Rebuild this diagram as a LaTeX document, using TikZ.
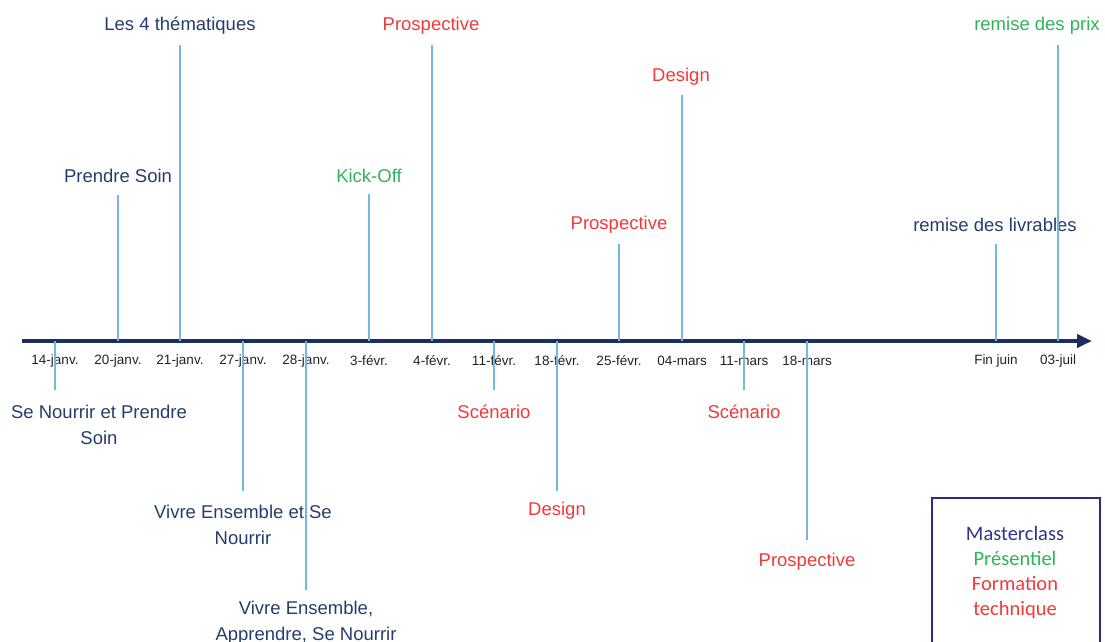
\documentclass[tikz,border=0pt]{standalone}
\usepackage{fontspec}
\setmainfont{Liberation Sans}
\newfontfamily\legendfont{Carlito}
\usetikzlibrary{arrows.meta}
\definecolor{axisblue}{HTML}{1B2F5E}
\definecolor{ticklblue}{HTML}{72B8E0}
\definecolor{navytext}{HTML}{253D6D}
\definecolor{redtext}{HTML}{F03A3A}
\definecolor{greentext}{HTML}{2EB35A}
\definecolor{datetext}{HTML}{222222}
\definecolor{legendframe}{HTML}{2A2A8A}
\definecolor{legendnavy}{HTML}{30338A}
\tikzset{
  axisline/.style={line width=4pt, draw=axisblue, -{Triangle[length=15pt,width=13pt]}},
  tickline/.style={line width=1.4pt, draw=ticklblue},
  datelabel/.style={font=\fontsize{13.5}{15}\selectfont, text=datetext, inner sep=0pt, anchor=center},
  evlabel/.style={font=\fontsize{18.5}{26}\selectfont, inner sep=0pt, align=center, anchor=center},
  navylab/.style={evlabel, text=navytext},
  redlab/.style={evlabel, text=redtext},
  greenlab/.style={evlabel, text=greentext},
  legendbox/.style={draw=legendframe, line width=2pt}
}
\begin{document}
\begin{tikzpicture}[x=1pt,y=-1pt]
\useasboundingbox (0,0) rectangle (1105,641);
\clip (0,0) rectangle (1105,641);
% axis
\coordinate (axstart) at (22,341);
\coordinate (axend) at (1092,341);
\draw[axisline] (axstart) -- (axend);
% axis points
\coordinate (p14) at (55,341);
\coordinate (p20) at (118,341);
\coordinate (p21) at (180,341);
\coordinate (p27) at (243,341);
\coordinate (p28) at (306,341);
\coordinate (p3f) at (369,341);
\coordinate (p4f) at (432,341);
\coordinate (p11f) at (494,341);
\coordinate (p18f) at (557,341);
\coordinate (p25f) at (619,341);
\coordinate (p4m) at (682,341);
\coordinate (p11m) at (744,341);
\coordinate (p18m) at (807,341);
\coordinate (pfj) at (996,341);
\coordinate (p3j) at (1058,341);
% date labels
\node[datelabel] (d14) at (55,361) {14-janv.};
\node[datelabel] (d20) at (118,361) {20-janv.};
\node[datelabel] (d21) at (180,361) {21-janv.};
\node[datelabel] (d27) at (243,361) {27-janv.};
\node[datelabel] (d28) at (306,361) {28-janv.};
\node[datelabel] (d3f) at (369,361) {3-févr.};
\node[datelabel] (d4f) at (432,361) {4-févr.};
\node[datelabel] (d11f) at (494,361) {11-févr.};
\node[datelabel] (d18f) at (557,361) {18-févr.};
\node[datelabel] (d25f) at (619,361) {25-févr.};
\node[datelabel] (d4m) at (682,361) {04-mars};
\node[datelabel] (d11m) at (744,361) {11-mars};
\node[datelabel] (d18m) at (807,361) {18-mars};
\node[datelabel] (dfj) at (996,361) {Fin juin};
\node[datelabel] (d3j) at (1058,361) {03-juil};
% line ends
\coordinate (e20) at (118,195);
\coordinate (e21) at (180,45);
\coordinate (e3f) at (369,194);
\coordinate (e4f) at (432,45);
\coordinate (e25f) at (619,244);
\coordinate (e4m) at (682,95);
\coordinate (efj) at (996,244);
\coordinate (e3j) at (1058,45);
\coordinate (e14) at (55,390);
\coordinate (e27) at (243,491);
\coordinate (e28) at (306,590);
\coordinate (e11f) at (494,390);
\coordinate (e18f) at (557,491);
\coordinate (e11m) at (744,390);
\coordinate (e18m) at (807,540);
% event labels above
\node[navylab] (l20) at (118,176) {Prendre Soin};
\node[navylab] (l21) at (180,26) {Les 4 thématiques};
\node[greenlab] (l3f) at (369,176) {Kick-Off};
\node[redlab] (l4f) at (431,26) {Prospective};
\node[redlab] (l25f) at (619,225) {Prospective};
\node[redlab] (l4m) at (681,77) {Design};
\node[navylab] (lfj) at (995,225) {remise des livrables};
\node[greenlab] (l3j) at (1037,26) {remise des prix};
% event labels below
\node[navylab] (l14) at (99,425) {Se Nourrir et Prendre\\Soin};
\node[navylab] (l27) at (243,525) {Vivre Ensemble et Se\\Nourrir};
\node[navylab] (l28) at (306,623) {Vivre Ensemble,\\Apprendre, Se Nourrir};
\node[redlab] (l11f) at (494,412) {Scénario};
\node[redlab] (l18f) at (557,511) {Design};
\node[redlab] (l11m) at (744,412) {Scénario};
\node[redlab] (l18m) at (807,562) {Prospective};
% tick lines
\draw[tickline] (p20) -- (e20);
\draw[tickline] (p21) -- (e21);
\draw[tickline] (p3f) -- (e3f);
\draw[tickline] (p4f) -- (e4f);
\draw[tickline] (p25f) -- (e25f);
\draw[tickline] (p4m) -- (e4m);
\draw[tickline] (pfj) -- (efj);
\draw[tickline] (p3j) -- (e3j);
\draw[tickline] (p14) -- (e14);
\draw[tickline] (p27) -- (e27);
\draw[tickline] (p28) -- (e28);
\draw[tickline] (p11f) -- (e11f);
\draw[tickline] (p18f) -- (e18f);
\draw[tickline] (p11m) -- (e11m);
\draw[tickline] (p18m) -- (e18m);
% legend
\coordinate (lgA) at (932,498);
\coordinate (lgB) at (1100,660);
\draw[legendbox] (lgA) rectangle (lgB);
\node[inner sep=0pt, align=center, font=\legendfont\fontsize{20.5}{25}\selectfont] (legend) at (1015,573)
  {\textcolor{legendnavy}{Masterclass}\\\textcolor{greentext}{Présentiel}\\\textcolor{redtext}{Formation}\\\textcolor{redtext}{technique}};
\end{tikzpicture}
\end{document}
